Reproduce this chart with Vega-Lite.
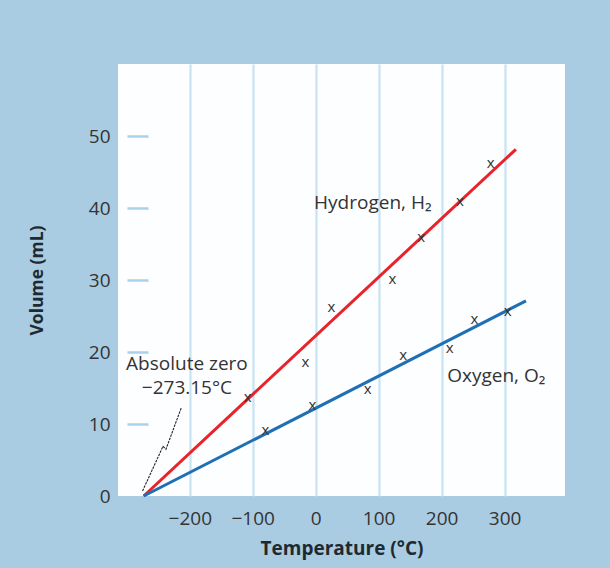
{
  "$schema": "https://vega.github.io/schema/vega-lite/v6.json",
  "width": 447,
  "height": 432,
  "autosize": {"type": "none"},
  "padding": {"left": 118, "top": 64, "right": 45, "bottom": 72},
  "background": "#aacce2",
  "config": {
    "view": {"fill": "#fdfeff", "stroke": null},
    "font": "Open Sans",
    "axisX": {
      "grid": true, "gridColor": "#c6e2f3", "gridWidth": 2.2,
      "domain": false, "ticks": false,
      "labelFontSize": 19, "labelColor": "#333333", "labelPadding": 13,
      "titleFontSize": 19, "titleFontWeight": "bold", "titleColor": "#1e2a30", "titlePadding": 11
    },
    "axisY": {
      "grid": false, "domain": false,
      "offset": -30, "tickSize": 21, "tickWidth": 2.5,
      "labelFontSize": 19, "labelColor": "#333333", "labelPadding": 17,
      "titleFontSize": 17.5, "titleFontWeight": "bold", "titleColor": "#1e2a30", "titlePadding": 42
    }
  },
  "datasets": {
    "lines": [
      {"gas": "Hydrogen", "T": -273.15, "V": 0},
      {"gas": "Hydrogen", "T": 318, "V": 48.15},
      {"gas": "Oxygen", "T": -273.15, "V": 0},
      {"gas": "Oxygen", "T": 334, "V": 27.1}
    ],
    "points": [
      {"gas": "Hydrogen", "T": -108, "V": 13.7},
      {"gas": "Hydrogen", "T": -16.3, "V": 18.65},
      {"gas": "Hydrogen", "T": 24.9, "V": 26.2},
      {"gas": "Hydrogen", "T": 122, "V": 30.2},
      {"gas": "Hydrogen", "T": 167.5, "V": 36.0},
      {"gas": "Hydrogen", "T": 229, "V": 41.0},
      {"gas": "Hydrogen", "T": 278, "V": 46.2},
      {"gas": "Oxygen", "T": -80, "V": 9.1},
      {"gas": "Oxygen", "T": -5, "V": 12.6},
      {"gas": "Oxygen", "T": 82.5, "V": 14.9},
      {"gas": "Oxygen", "T": 139, "V": 19.6},
      {"gas": "Oxygen", "T": 213, "V": 20.5},
      {"gas": "Oxygen", "T": 252, "V": 24.6},
      {"gas": "Oxygen", "T": 305, "V": 25.7}
    ],
    "zig": [
      {"i": 0, "T": -275, "V": 0.7},
      {"i": 1, "T": -242.5, "V": 6.9},
      {"i": 2, "T": -237.8, "V": 6.5},
      {"i": 3, "T": -213.7, "V": 12.2}
    ],
    "labels": [
      {"label": "Absolute zero\n−273.15°C", "T": -204.5, "V": 18.4},
      {"label": "Hydrogen, H₂", "T": 90.7, "V": 40.7},
      {"label": "Oxygen, O₂", "T": 286.8, "V": 16.7}
    ]
  },
  "layer": [
    {
      "data": {"name": "lines"},
      "mark": {"type": "line", "strokeWidth": 3},
      "encoding": {
        "x": {"field": "T", "type": "quantitative", "title": "Temperature (°C)",
              "scale": {"domain": [-314, 396], "nice": false, "zero": false},
              "axis": {"values": [-200, -100, 0, 100, 200, 300]}},
        "y": {"field": "V", "type": "quantitative", "title": "Volume (mL)",
              "scale": {"domain": [0, 60], "nice": false},
              "axis": {"values": [0, 10, 20, 30, 40, 50],
                       "tickColor": {"condition": {"test": "datum.value === 0", "value": "transparent"}, "value": "#a9d2ec"}}},
        "color": {"field": "gas", "type": "nominal",
                  "scale": {"domain": ["Hydrogen", "Oxygen"], "range": ["#e8232a", "#1f6fb4"]},
                  "legend": null}
      }
    },
    {
      "mark": {"type": "rule", "color": "#a2b4c2", "strokeWidth": 4},
      "encoding": {"x": {"datum": -314, "type": "quantitative"}}
    },
    {
      "mark": {"type": "rule", "color": "#a2b4c2", "strokeWidth": 4},
      "encoding": {"y": {"datum": 60, "type": "quantitative"}}
    },
    {
      "data": {"name": "points"},
      "mark": {"type": "text", "text": "x", "fontSize": 15, "color": "#333333", "baseline": "middle", "align": "center"},
      "encoding": {
        "x": {"field": "T", "type": "quantitative", "title": "Temperature (°C)"},
        "y": {"field": "V", "type": "quantitative", "title": "Volume (mL)"}
      }
    },
    {
      "data": {"name": "zig"},
      "mark": {"type": "line", "color": "#222222", "strokeWidth": 1.1, "strokeDash": [2.5, 1]},
      "encoding": {
        "x": {"field": "T", "type": "quantitative", "title": "Temperature (°C)"},
        "y": {"field": "V", "type": "quantitative", "title": "Volume (mL)"},
        "order": {"field": "i"}
      }
    },
    {
      "data": {"name": "labels"},
      "mark": {"type": "text", "fontSize": 19, "color": "#333333", "baseline": "middle", "align": "center", "lineBreak": "\n", "lineHeight": 24},
      "encoding": {
        "x": {"field": "T", "type": "quantitative", "title": "Temperature (°C)"},
        "y": {"field": "V", "type": "quantitative", "title": "Volume (mL)"},
        "text": {"field": "label"}
      }
    }
  ]
}
